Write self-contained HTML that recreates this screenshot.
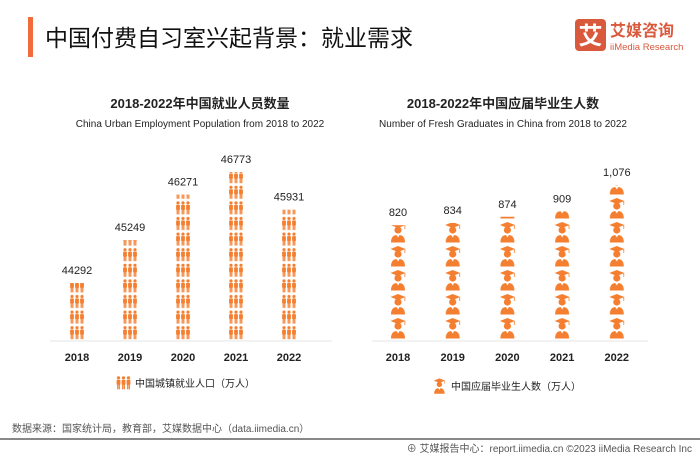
<!DOCTYPE html>
<html><head><meta charset="utf-8"><style>
body{margin:0;width:700px;height:455px;background:#fff;overflow:hidden;font-family:"Liberation Sans","Noto Sans CJK SC",sans-serif;}
svg{display:block}
</style></head><body>
<svg width="700" height="455" viewBox="0 0 700 455" id="chart">
<defs>
  <g id="person">
    <circle cx="2.5" cy="1.8" r="1.6"/>
    <rect x="0.6" y="3.8" width="3.8" height="5" rx="0.8"/>
    <rect x="1.1" y="8.3" width="1.2" height="5"/>
    <rect x="2.7" y="8.3" width="1.2" height="5"/>
  </g>
  <pattern id="pp" patternUnits="userSpaceOnUse" x="0" y="340" width="16" height="15.6">
    <g fill="#f47f30">
      <use href="#person" x="0.5" y="1.5"/>
      <use href="#person" x="5.5" y="1.5"/>
      <use href="#person" x="10.5" y="1.5"/>
    </g>
  </pattern>
  <g id="grad">
    <polygon points="8.5,0.5 16,3.5 8.5,6.5 1,3.5"/>
    <rect x="15" y="3.5" width="0.8" height="4"/>
    <circle cx="8.5" cy="8.5" r="3.6"/>
    <path d="M1.5,21 Q1.5,14 7,13.5 L8.5,16 L10,13.5 Q15.5,14 15.5,21 Z"/>
  </g>
  <pattern id="gp" patternUnits="userSpaceOnUse" x="0" y="340" width="17" height="24">
    <g fill="#f47f30"><use href="#grad" x="0" y="1.5"/></g>
  </pattern>
</defs>
<rect x="28" y="17" width="5" height="40" fill="#f26b3a"/>
<text x="45" y="46" font-size="23" fill="#111">中国付费自习室兴起背景：就业需求</text>
<g>
  <rect x="575" y="19" width="31" height="32" rx="4" fill="#d9593c"/>
  <text x="590.5" y="44" font-size="24" font-weight="bold" fill="#fff" text-anchor="middle">艾</text>
  <text x="610" y="36" font-size="16" font-weight="bold" fill="#d9593c">艾媒咨询</text>
  <text x="610" y="50" font-size="9.5" fill="#d9593c">iiMedia Research</text>
</g>
<text x="200" y="108" font-size="13" font-weight="bold" text-anchor="middle" fill="#222">2018-2022年中国就业人员数量</text>
<text x="200" y="127" font-size="10" text-anchor="middle" fill="#222">China Urban Employment Population from 2018 to 2022</text>
<text x="503" y="108" font-size="13" font-weight="bold" text-anchor="middle" fill="#222">2018-2022年中国应届毕业生人数</text>
<text x="503" y="127" font-size="10" text-anchor="middle" fill="#222">Number of Fresh Graduates in China from 2018 to 2022</text>
<line x1="50" y1="341" x2="332" y2="341" stroke="#e6e6e6"/>
<line x1="372" y1="341" x2="648" y2="341" stroke="#e6e6e6"/>
<g id="left"></g><g id="right"></g>
<g>
  <g fill="#f47f30"><use href="#person" x="116" y="376"/><use href="#person" x="121" y="376"/><use href="#person" x="126" y="376"/></g>
  <text x="135" y="387" font-size="10" fill="#222">中国城镇就业人口（万人）</text>
</g>
<g>
  <g fill="#f47f30" transform="translate(433,378) scale(0.75)"><use href="#grad"/></g>
  <text x="451" y="390" font-size="10" fill="#222">中国应届毕业生人数（万人）</text>
</g>
<text x="12" y="432" font-size="10" fill="#555">数据来源：国家统计局，教育部，艾媒数据中心（data.iimedia.cn）</text>
<rect x="0" y="438" width="700" height="2" fill="#888"/>
<text x="692" y="452" font-size="10" fill="#555" text-anchor="end">⊕ 艾媒报告中心：report.iimedia.cn   ©2023  iiMedia Research  Inc</text>
</svg>
<script>
const years = ["2018","2019","2020","2021","2022"];
const employment = [44292,45249,46271,46773,45931];
const employmentLabels = ["44292","45249","46271","46773","45931"];
const graduates = [820,834,874,909,1076];
const graduateLabels = ["820","834","874","909","1,076"];
const NS="http://www.w3.org/2000/svg";
function mk(t,a){const e=document.createElementNS(NS,t);for(const k in a)e.setAttribute(k,a[k]);return e;}
const base=340;
function yL(v){return base-(v-43017)*0.0447;}
function xL(i){return 77+i*53;}
function yR(v){return base-(v-84)*0.156;}
function xR(i){return 398+i*54.7;}
function draw(gid,vals,labels,xf,yf,w,pat,side){
  const g=document.getElementById(gid);
  vals.forEach((v,i)=>{
    const cx=xf(i),top=yf(v);
    const grp=mk('g',{transform:`translate(${cx-w/2},0)`});
    
    
    grp.appendChild(mk('rect',{x:0,y:top,width:w,height:base-top,fill:`url(#${pat})`}));
    g.appendChild(grp);
    const lb=mk('text',{x:cx,y:top-9,'font-size':11,'text-anchor':'middle',fill:'#222'});
    
    
    lb.textContent=labels[i];g.appendChild(lb);
    const yl=mk('text',{x:cx,y:361,'font-size':11,'font-weight':'bold','text-anchor':'middle',fill:'#222'});
    
    
    yl.textContent=years[i];g.appendChild(yl);
  });
}
draw('left',employment,employmentLabels,xL,yL,16,'pp','left');
draw('right',graduates,graduateLabels,xR,yR,17,'gp','right');
</script>
</body></html>
